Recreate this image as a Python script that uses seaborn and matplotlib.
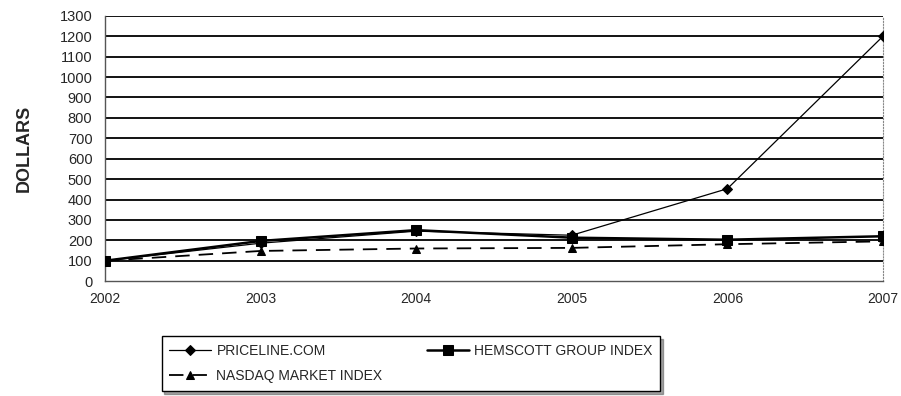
import pandas as pd
import numpy as np
import matplotlib
matplotlib.use("Agg")
import matplotlib.pyplot as plt
import seaborn as sns

# --- data ---
years = [2002, 2003, 2004, 2005, 2006, 2007]
priceline = [100, 186, 245, 225, 453, 1200]
hemscott = [100, 197, 250, 213, 203, 220]
nasdaq = [100, 148, 160, 163, 181, 195]
y_ticks = list(range(0, 1301, 100))

sns.set_style("white")
plt.rcParams['font.family'] = ['Liberation Sans', 'DejaVu Sans']

fig = plt.figure(figsize=(9.01, 3.96), dpi=100)
ax = fig.add_axes([0.1165, 0.29, 0.8635, 0.67])

# gridlines
for v in y_ticks[1:]:
    ax.axhline(v, color="black", lw=1.3, zorder=1)

sns.lineplot(x=years, y=priceline, ax=ax, color="black", lw=0.9,
             marker="D", markersize=5, markeredgecolor="black",
             label="PRICELINE.COM", zorder=4)
sns.lineplot(x=years, y=nasdaq, ax=ax, color="black", lw=1.3,
             marker="^", markersize=6, markeredgecolor="black",
             linestyle=(0, (8, 5)), label="NASDAQ MARKET INDEX", zorder=3)
sns.lineplot(x=years, y=hemscott, ax=ax, color="black", lw=1.8,
             marker="s", markersize=7, markeredgecolor="black",
             label="HEMSCOTT GROUP INDEX", zorder=3)

ax.set_xlim(2002, 2007)
ax.set_ylim(0, 1300)
ax.set_yticks(y_ticks)
ax.set_xticks(years)
ax.set_xticklabels([str(y) for y in years])
ax.tick_params(axis="both", labelsize=10.5, length=6, color="#555555",
               direction="out", pad=3)
ax.tick_params(axis="x", pad=4, labelsize=10, length=4)
ax.set_ylabel("DOLLARS", fontsize=13, fontweight="bold")
ax.yaxis.set_label_coords(-0.093, 0.5)

for side in ["left", "bottom"]:
    ax.spines[side].set_color("#555555")
    ax.spines[side].set_linewidth(1.0)
ax.spines["right"].set_color("#888888")
ax.spines["right"].set_linestyle(":")
ax.spines["top"].set_visible(False)

handles, labels = ax.get_legend_handles_labels()
ax.get_legend().remove()
leg = fig.legend(handles, labels, ncol=2, loc="center",
                 bbox_to_anchor=(0.456, 0.082), fontsize=10,
                 frameon=True, fancybox=False, shadow=True,
                 edgecolor="black", columnspacing=3.2, handlelength=3,
                 labelspacing=0.8, borderpad=0.55, handletextpad=0.4)
leg.get_frame().set_linewidth(1.0)

fig.savefig("out.png", dpi=100)
